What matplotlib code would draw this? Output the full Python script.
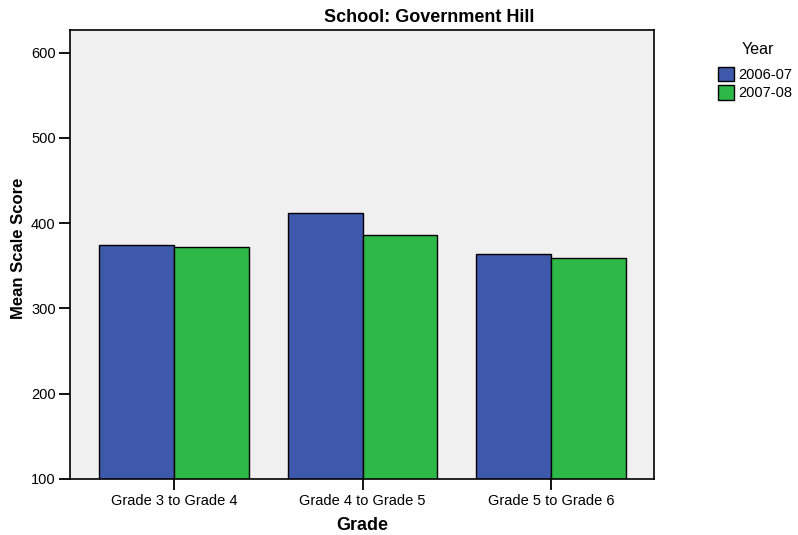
import numpy as np
import matplotlib
matplotlib.use("Agg")
import matplotlib.pyplot as plt

grades = ["Grade 3 to Grade 4", "Grade 4 to Grade 5", "Grade 5 to Grade 6"]
years = ["2006-07", "2007-08"]
score_0607 = [375, 412, 364]
score_0708 = [372, 386, 359]
colors = ["#3E58AC", "#2EB848"]

plt.rcParams["font.family"] = ["Liberation Sans", "DejaVu Sans"]

fig = plt.figure(figsize=(7.98, 5.35), dpi=100)
ax = fig.add_axes([0.0871, 0.1047, 0.7325, 0.8392])
ax.set_facecolor("#F0F0F0")

x = np.arange(len(grades))
w = 0.397
ax.bar(x - w / 2, score_0607, w, color=colors[0], edgecolor="black", linewidth=1, label=years[0], zorder=2)
ax.bar(x + w / 2, score_0708, w, color=colors[1], edgecolor="black", linewidth=1, label=years[1], zorder=2)

ax.set_xlim(-0.553, 2.545)
ax.set_ylim(100, 626.6)
ax.set_yticks([100, 200, 300, 400, 500, 600])
ax.set_xticks(x)
ax.set_xticklabels(grades)
ax.tick_params(axis="both", direction="out", length=8, width=1.3, labelsize=10.5, colors="black", pad=2)
ax.tick_params(axis="x", pad=3)
for s in ax.spines.values():
    s.set_linewidth(1.2)

ax.set_xlabel("Grade", fontsize=13, fontweight="bold", labelpad=6)
ax.set_ylabel("Mean Scale Score", fontsize=12, fontweight="bold")
ax.yaxis.set_label_coords(-0.075, 0.513)

# title
fig.text(429 / 798, 1 - 18 / 535, "School: Government Hill", ha="center", va="center",
         fontsize=13, fontweight="bold")

# legend
fig.text(758 / 798, 1 - 49 / 535, "Year", ha="center", va="center", fontsize=11.5)
leg = fig.legend(loc="upper left", bbox_to_anchor=(718 / 798, 1 - 67 / 535), frameon=False,
                 fontsize=10.5, handlelength=1.1, handleheight=1.15,
                 handletextpad=0.3, labelspacing=0.2, borderpad=0, borderaxespad=0)
for p in leg.get_patches():
    p.set_edgecolor("black")

fig.savefig("out.png", dpi=100)
